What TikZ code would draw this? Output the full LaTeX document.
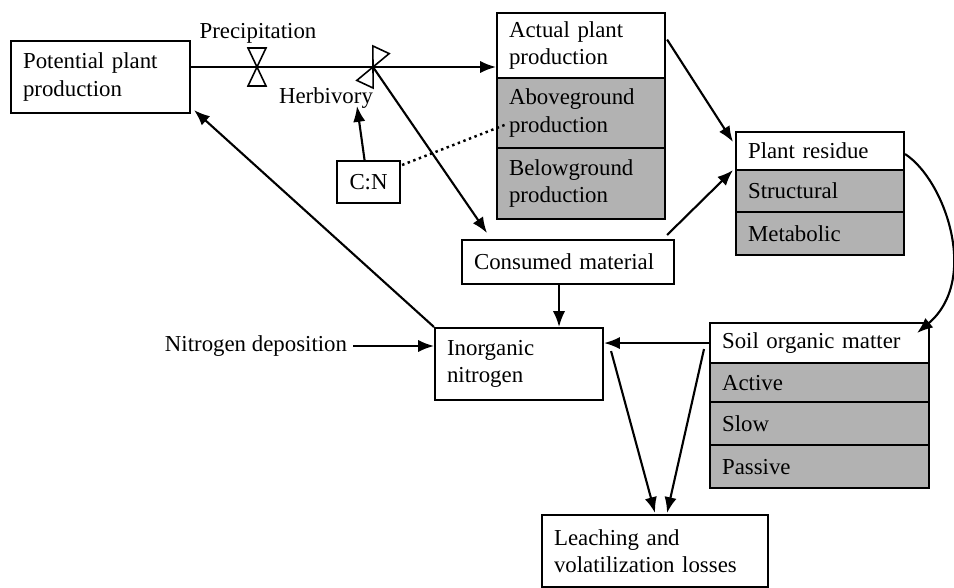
\documentclass[tikz,border=0pt]{standalone}
\usepackage{fontspec}
\setmainfont{Liberation Serif}
\usepackage{tikz}
\usetikzlibrary{arrows.meta}

\tikzset{
	box/.style={draw, line width=1.2pt, fill=white, anchor=north west, align=left, inner xsep=0.24cm, inner ysep=0pt, font=\fontsize{13}{15.5}\selectfont},
	pool/.style={box, fill=gray!60},
	flow/.style={line width=1.2pt, -{Latex[length=9pt,width=7pt]}},
	label/.style={inner sep=1pt, font=\fontsize{13}{15.5}\selectfont},
	valve/.style={line width=0.9pt, fill=white, line join=miter}
}

\begin{document}
\begin{tikzpicture}[x=0.02cm, y=-0.02cm]
		\useasboundingbox (0,0) rectangle (954,588);

		% Plant side
		\node [box, minimum width=3.58cm, minimum height=1.44cm, text width=3.10cm] (pot) at (10,40) {Potential plant\\production};
		\node [box, minimum width=3.36cm, minimum height=1.30cm, text width=2.88cm] (act) at (496,12) {Actual plant\\production};
		\node [pool, minimum width=3.36cm, minimum height=1.40cm, text width=2.88cm] (above) at (496,77) {Aboveground\\production};
		\node [pool, minimum width=3.36cm, minimum height=1.42cm, text width=2.88cm] (below) at (496,147) {Belowground\\production};

		\node [box, minimum width=1.26cm, minimum height=0.84cm, text width=0.78cm, align=center] (cn) at (336,160) {C:N};
		\node [box, minimum width=4.24cm, minimum height=0.88cm, text width=3.76cm] (cons) at (461,239) {Consumed material};

		% Residue pools
		\node [box, minimum width=3.36cm, minimum height=0.76cm, text width=2.88cm] (res) at (735,131) {Plant residue};
		\node [pool, minimum width=3.36cm, minimum height=0.84cm, text width=2.88cm] (struct) at (735,169) {Structural};
		\node [pool, minimum width=3.36cm, minimum height=0.86cm, text width=2.88cm] (metab) at (735,211) {Metabolic};

		% Soil pools
		\node [box, minimum width=4.38cm, minimum height=0.80cm, text width=3.90cm] (som) at (709,322) {Soil organic matter};
		\node [pool, minimum width=4.38cm, minimum height=0.78cm, text width=3.90cm] (active) at (709,362) {Active};
		\node [pool, minimum width=4.38cm, minimum height=0.86cm, text width=3.90cm] (slow) at (709,401) {Slow};
		\node [pool, minimum width=4.38cm, minimum height=0.86cm, text width=3.90cm] (passive) at (709,444) {Passive};

		\node [box, minimum width=3.36cm, minimum height=1.44cm, text width=2.88cm] (inorg) at (434,327) {Inorganic\\nitrogen};
		\node [box, minimum width=4.52cm, minimum height=1.44cm, text width=4.04cm] (leach) at (541,514) {Leaching and\\volatilization losses};

		% Labels
		\node [label] (prec) at (258,33) {Precipitation};
		\node [label] (herb) at (326,98) {Herbivory};
		\node [label] (ndep) at (256,346) {Nitrogen deposition};
		\coordinate (vA) at (257,67);
		\coordinate (vB) at (373,67);
		\coordinate (herbin) at (357,106);

		% Main flow with valves
		\draw [flow] (pot.east |- vA) -- (act.west |- vA);
		\draw [valve, shift={(vA)}] (-9,-19) -- (9,-19) -- (0,0) -- cycle (0,0) -- (-9,19) -- (9,19) -- cycle;
		\draw [valve, shift={(vB)}, rotate=-25] (-9,-19) -- (9,-19) -- (0,0) -- cycle (0,0) -- (-9,19) -- (9,19) -- cycle;

		\draw [flow] (vB) -- ([shift={(26,-6)}]cons.north west);
		\draw [flow] ([shift={(-4,0)}]cn.north) -- (herbin);
		\draw [line width=1.4pt, dotted] ([shift={(1,5)}]cn.north east) -- ([shift={(11,11)}]above.west);

		\draw [flow] ([shift={(1,-6)}]act.east) -- ([shift={(-2,11)}]res.north west);
		\draw [flow] ([shift={(-8,-4)}]cons.north east) -- ([shift={(-2,-1)}]res.south west);
		\draw [flow] ([shift={(0,3)}]res.east) .. controls (945,180) and (980,280) .. ([shift={(-13,11)}]som.north east);

		% Nitrogen flows
		\draw [flow] ([shift={(-9,0)}]cons.south) -- ([shift={(-9,0)}]cons.south |- inorg.north);
		\draw [flow] (inorg.north west) -- ([shift={(3,-4)}]pot.south east);
		\draw [flow] ([shift={(4,0)}]ndep.east) -- (ndep.east -| inorg.west);
		\draw [flow] (som.west) -- (som.west -| inorg.east);
		\draw [flow] ([shift={(7,-13)}]inorg.east) -- ([shift={(0,-1)}]leach.north);
		\draw [flow] ([shift={(-5,6)}]som.west) -- ([shift={(12,-1)}]leach.north);
	\end{tikzpicture}
\end{document}
